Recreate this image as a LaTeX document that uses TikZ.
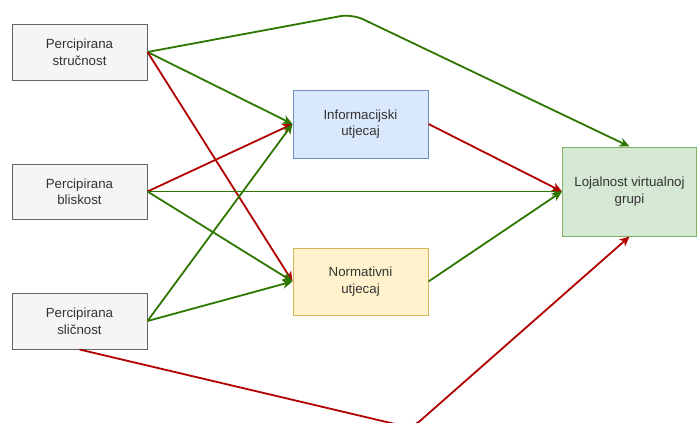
\documentclass[tikz,border=0pt]{standalone}
\usepackage{fontspec}
\setmainfont{Liberation Sans}
\usetikzlibrary{arrows.meta}
\definecolor{txt}{HTML}{333333}
\definecolor{gfill}{HTML}{F5F5F5}\definecolor{gdraw}{HTML}{666666}
\definecolor{bfill}{HTML}{DAE8FC}\definecolor{bdraw}{HTML}{6C8EBF}
\definecolor{yfill}{HTML}{FFF2CC}\definecolor{ydraw}{HTML}{D6B656}
\definecolor{lfill}{HTML}{D5E8D4}\definecolor{ldraw}{HTML}{82B366}
\definecolor{eg}{HTML}{2D7600}\definecolor{er}{HTML}{B20000}
\tikzset{
  box/.style={draw, line width=1pt, text=txt, align=center, minimum width=135pt,
    inner sep=0pt, font=\fontsize{13.3}{16.5}\selectfont},
  graybox/.style={box, fill=gfill, draw=gdraw, minimum height=56pt},
  gedge/.style={draw=eg, line width=1.8pt, -{Stealth[length=10pt,width=9pt,inset=3pt]}},
  redge/.style={draw=er, line width=1.8pt, -{Stealth[length=10pt,width=9pt,inset=3pt]}},
}
\begin{document}
\begin{tikzpicture}[x=1pt,y=-1pt]
\useasboundingbox (0,0) rectangle (697,423);
\clip (0,0) rectangle (697,423);
\node[graybox] (s) at (79.5,52) {Percipirana\\stručnost};
\node[graybox, minimum height=55pt] (b) at (79.5,191.5) {Percipirana\\bliskost};
\node[graybox] (sl) at (79.5,321) {Percipirana\\sličnost};
\node[box, fill=bfill, draw=bdraw, minimum height=68pt] (inf) at (360.5,124) {Informacijski\\utjecaj};
\node[box, fill=yfill, draw=ydraw, minimum height=67pt] (nor) at (360.5,281.5) {Normativni\\utjecaj};
\node[box, fill=lfill, draw=ldraw, minimum width=134pt, minimum height=89pt] (loj) at (629.5,191.5) {Lojalnost virtualnoj\\grupi};
\coordinate (top) at (352,14);
\coordinate (bot) at (412,428);
\draw[gedge, rounded corners=12pt] (s.east) -- (top) -- (loj.north);
\draw[gedge] (s.east) -- (inf.west);
\draw[redge] (s.east) -- (nor.west);
\draw[redge] (b.east) -- (inf.west);
\draw[gedge, line width=1.2pt] (b.east) -- (loj.west);
\draw[gedge] (b.east) -- (nor.west);
\draw[gedge] (sl.east) -- (inf.west);
\draw[gedge] (sl.east) -- (nor.west);
\draw[redge, rounded corners=10pt] (sl.south) -- (bot) -- (loj.south);
\draw[redge] (inf.east) -- (loj.west);
\draw[gedge] (nor.east) -- (loj.west);
\end{tikzpicture}
\end{document}
